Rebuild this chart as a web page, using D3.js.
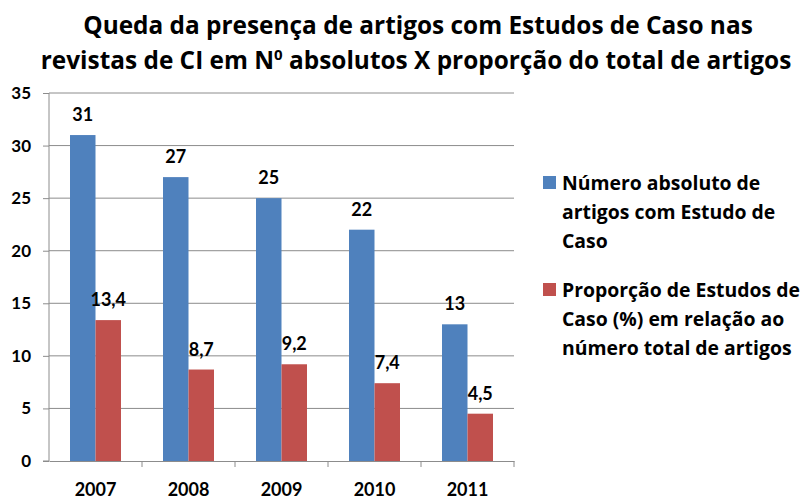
<!DOCTYPE html>
<html>
<head>
<meta charset="utf-8">
<script src="https://cdn.jsdelivr.net/npm/d3@7"></script>
<style>
  body { margin: 0; background: #fff; }
  svg { font-family: 'Open Sans', Lato, sans-serif; font-weight: bold; }
</style>
</head>
<body>
<div id="chart"></div>
<script>
// chart data
const years = ['2007', '2008', '2009', '2010', '2011'];
const absolutos = [31, 27, 25, 22, 13];
const proporcao = [13.4, 8.7, 9.2, 7.4, 4.5];
const yTicks = [0, 5, 10, 15, 20, 25, 30, 35];
const seriesNames = [
  ['Número absoluto de', 'artigos com Estudo de', 'Caso'],
  ['Proporção de Estudos de', 'Caso (%) em relação ao', 'número total de artigos']
];
const colors = ['#4F81BD', '#C0504D'];

const width = 806;
const height = 500;
const margin = { top: 93, bottom: 39, left: 49, right: 292 };

const svg = d3.select('#chart')
  .append('svg')
  .attr('width', width)
  .attr('height', height);

// title
svg.append('text')
  .attr('x', 418).attr('y', 34)
  .attr('text-anchor', 'middle')
  .attr('font-size', '24.4px')
  .text('Queda da presença de artigos com Estudos de Caso nas');
const t2 = svg.append('text')
  .attr('x', 416).attr('y', 69)
  .attr('text-anchor', 'middle')
  .attr('font-size', '24.4px');
t2.append('tspan').text('revistas de CI em N');
t2.append('tspan').attr('font-size', '15px').attr('dy', -9).text('0');
t2.append('tspan').attr('dy', 9).text(' absolutos X proporção do total de artigos');

const x = d3.scaleBand()
  .domain(years)
  .range([margin.left, width - margin.right]);

const y = d3.scaleLinear()
  .domain([0, 35])
  .range([height - margin.bottom, margin.top]);

// gridlines
svg.append('g')
  .selectAll('line')
  .data(yTicks.slice(1))
  .join('line')
  .attr('x1', margin.left).attr('x2', width - margin.right)
  .attr('y1', (d) => y(d)).attr('y2', (d) => y(d))
  .attr('stroke', '#8c8c8c')
  .attr('stroke-width', 1);

// y axis
const yAxis = svg.append('g')
  .attr('transform', `translate(${margin.left},0)`)
  .call(d3.axisLeft(y).tickValues(yTicks).tickSize(6).tickPadding(12));
yAxis.selectAll('text').attr('font-size', '17px').attr('fill', '#000')
  .attr('font-family', 'Lato, sans-serif').attr('font-weight', 'bold');
yAxis.selectAll('line, path').attr('stroke', '#8c8c8c');
yAxis.select('.domain').attr('d', `M-6,${y(0)}H0V${y(35)}`);

// x axis
const xAxis = svg.append('g')
  .attr('transform', `translate(0,${y(0)})`)
  .call(d3.axisBottom(x).tickSize(0).tickPadding(22));
xAxis.selectAll('text').attr('font-size', '18px').attr('fill', '#000')
  .attr('font-family', 'Lato, sans-serif').attr('font-weight', 'bold');
xAxis.select('.domain').attr('stroke', '#8c8c8c');
xAxis.selectAll('.sep')
  .data(years.slice(1).concat(['end']))
  .join('line')
  .attr('class', 'sep')
  .attr('x1', (d, i) => x(years[i]) + x.bandwidth())
  .attr('x2', (d, i) => x(years[i]) + x.bandwidth())
  .attr('y1', 0).attr('y2', 6)
  .attr('stroke', '#8c8c8c');

const inner = d3.scaleBand()
  .domain([0, 1])
  .range([21, x.bandwidth() - 21]);

const series = [absolutos, proporcao];
const fmt = (v) => String(v).replace('.', ',');

series.forEach((vals, s) => {
  const g = svg.append('g');
  g.selectAll('rect')
    .data(vals)
    .join('rect')
    .attr('x', (d, i) => x(years[i]) + inner(s))
    .attr('y', (d) => y(d))
    .attr('width', inner.bandwidth())
    .attr('height', (d) => y(0) - y(d))
    .attr('fill', colors[s]);
  g.selectAll('text')
    .data(vals)
    .join('text')
    .attr('x', (d, i) => x(years[i]) + inner(s) + inner.bandwidth() / 2)
    .attr('y', (d) => y(d) - 14)
    .attr('text-anchor', 'middle')
    .attr('font-size', '18px')
    .attr('font-family', 'Lato, sans-serif')
    .text(fmt);
});

// legend
const legend = svg.append('g');
const legendY = [183, 290];
seriesNames.forEach((lines, s) => {
  legend.append('rect')
    .attr('x', 543).attr('y', legendY[s] - 7)
    .attr('width', 13).attr('height', 13)
    .attr('fill', colors[s]);
  lines.forEach((line, k) => {
    legend.append('text')
      .attr('x', 562).attr('y', legendY[s] + k * 29 + 7)
      .attr('font-size', '19.4px')
      .text(line);
  });
});
</script>
</body>
</html>
